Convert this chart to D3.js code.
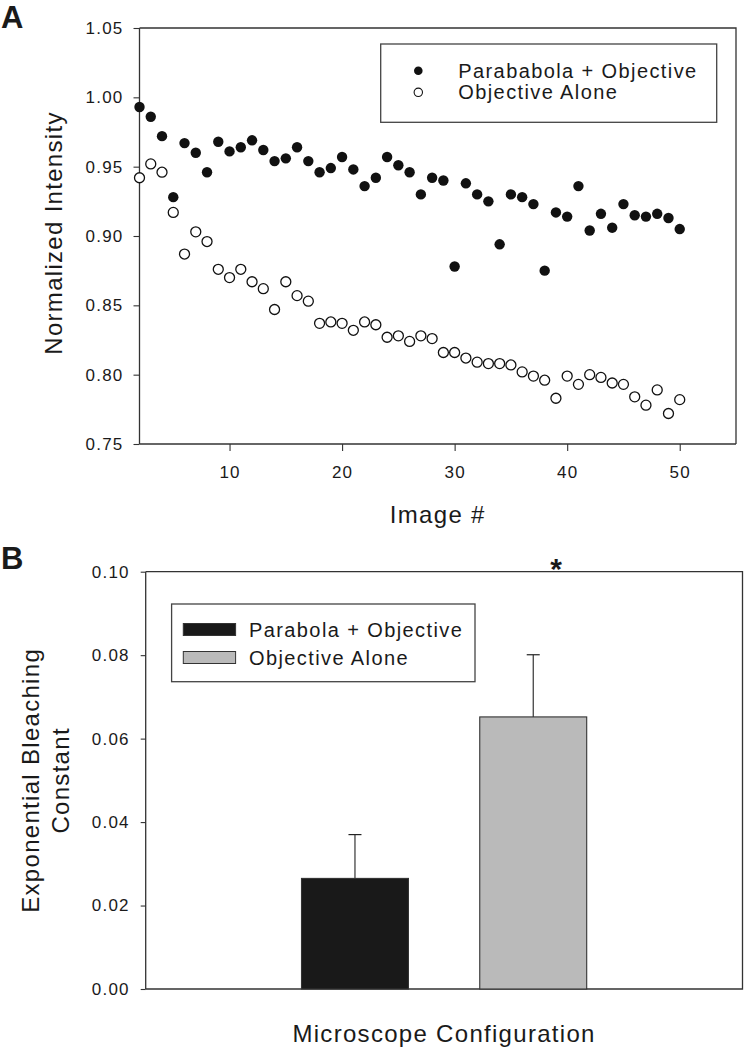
<!DOCTYPE html>
<html>
<head>
<meta charset="utf-8">
<script src="https://cdn.jsdelivr.net/npm/d3@7"></script>
<style>
  html, body { margin: 0; padding: 0; background: #fff; }
  svg { display: block; }
  text { font-family: "Liberation Sans", Arial, sans-serif; fill: #1a1a1a; }
</style>
</head>
<body>
<svg id="chart" width="744" height="1048"></svg>
<script>
// ---------- Panel A data ----------
const imageNumbers = [2,3,4,5,6,7,8,9,10,11,12,13,14,15,16,17,18,19,20,21,22,23,24,25,26,27,28,29,30,31,32,33,34,35,36,37,38,39,40,41,42,43,44,45,46,47,48,49,50];
const parabolaObjective = [0.993,0.986,0.972,0.928,0.967,0.960,0.946,0.968,0.961,0.964,
  0.969,0.962,0.954,0.956,0.964,0.954,0.946,0.949,0.957,0.948,
  0.936,0.942,0.957,0.951,0.946,0.930,0.942,0.940,0.878,0.938,
  0.930,0.925,0.894,0.930,0.928,0.923,0.875,0.917,0.914,0.936,
  0.904,0.916,0.906,0.923,0.915,0.914,0.916,0.913,0.905];
const objectiveAlone = [0.942,0.952,0.946,0.917,0.887,0.903,0.896,0.876,0.870,0.876,
  0.867,0.862,0.847,0.867,0.857,0.853,0.837,0.838,0.837,0.832,
  0.838,0.836,0.827,0.828,0.824,0.828,0.826,0.816,0.816,0.812,
  0.809,0.808,0.808,0.807,0.802,0.799,0.796,0.783,0.799,0.793,
  0.800,0.798,0.794,0.793,0.784,0.778,0.789,0.772,0.782];
const seriesNamesA = ["Parababola + Objective", "Objective Alone"];
const xTicksA = [10, 20, 30, 40, 50];
const yTicksA = [0.75, 0.80, 0.85, 0.90, 0.95, 1.00, 1.05];

// ---------- Panel B data ----------
const configurations = ["Parabola + Objective", "Objective Alone"];
const bleachConstant = [0.0265, 0.0652];
const bleachError = [0.0105, 0.0149];
const yTicksB = [0.00, 0.02, 0.04, 0.06, 0.08, 0.10];

const svg = d3.select("#chart");
const axisColor = "#333";
const tickFont = { size: 17, ls: "1.2px" };
const legFont = { size: 20, ls: "1.4px" };
const titleFont = { size: 24, ls: "1.3px" };

function styleTicks(ax) {
  ax.selectAll(".tick line").attr("stroke", axisColor).attr("stroke-width", 1.1);
  ax.selectAll("text").attr("font-size", tickFont.size).attr("letter-spacing", tickFont.ls)
    .attr("font-family", "Liberation Sans, Arial, sans-serif").attr("fill", "#1a1a1a");
}

// ================= Panel A =================
const A = { left: 139.5, right: 736, top: 28, bottom: 444 };
const xA = d3.scaleLinear().domain([2, 55]).range([A.left, A.right]);
const yA = d3.scaleLinear().domain([0.75, 1.05]).range([A.bottom, A.top]);

const gA = svg.append("g");

gA.append("path")
  .attr("d", `M${A.left},${A.top}H${A.right}V${A.bottom}`)
  .attr("fill", "none").attr("stroke", axisColor).attr("stroke-width", 1.3);

const yAxisA = gA.append("g").attr("transform", `translate(${A.left},0)`)
  .call(d3.axisLeft(yA).tickValues(yTicksA).tickFormat(d3.format(".2f"))
    .tickSize(6).tickSizeOuter(0).tickPadding(10));
const xAxisA = gA.append("g").attr("transform", `translate(0,${A.bottom})`)
  .call(d3.axisBottom(xA).tickValues(xTicksA).tickFormat(d3.format("d"))
    .tickSize(7).tickSizeOuter(0).tickPadding(15));
[yAxisA, xAxisA].forEach(ax => {
  ax.select(".domain").attr("stroke", axisColor).attr("stroke-width", 1.3);
  styleTicks(ax);
});
yAxisA.select(".domain").attr("d", `M0,${A.top}V${A.bottom}`);
xAxisA.select(".domain").attr("d", `M${A.left},0H${A.right}`);

const ptsA = imageNumbers.map((x, i) => ({ x, p: parabolaObjective[i], o: objectiveAlone[i] }));
gA.append("g").selectAll("circle").data(ptsA).join("circle")
  .attr("cx", d => xA(d.x)).attr("cy", d => yA(d.o)).attr("r", 5)
  .attr("fill", "#fff").attr("stroke", "#111").attr("stroke-width", 1.3);
gA.append("g").selectAll("circle").data(ptsA).join("circle")
  .attr("cx", d => xA(d.x)).attr("cy", d => yA(d.p)).attr("r", 5.2)
  .attr("fill", "#111");

gA.append("text").attr("x", (A.left + A.right) / 2).attr("y", 523)
  .attr("text-anchor", "middle").attr("font-size", titleFont.size).attr("letter-spacing", titleFont.ls)
  .text("Image #");
gA.append("text").attr("transform", `translate(62,${(A.top + A.bottom) / 2 - 3}) rotate(-90)`)
  .attr("text-anchor", "middle").attr("font-size", titleFont.size).attr("letter-spacing", titleFont.ls)
  .text("Normalized Intensity");

// legend A
const legA = gA.append("g");
legA.append("rect").attr("x", 380.7).attr("y", 44).attr("width", 336).attr("height", 78.3)
  .attr("fill", "#fff").attr("stroke", "#444").attr("stroke-width", 1.3);
const legAy = [70.7, 92.3];
legA.append("circle").attr("cx", 418.3).attr("cy", legAy[0]).attr("r", 4.3).attr("fill", "#111");
legA.append("circle").attr("cx", 418.3).attr("cy", legAy[1]).attr("r", 4.2)
  .attr("fill", "#fff").attr("stroke", "#111").attr("stroke-width", 1.1);
seriesNamesA.forEach((n, i) => {
  legA.append("text").attr("x", 458.3).attr("y", legAy[i] + 7)
    .attr("font-size", legFont.size).attr("letter-spacing", legFont.ls).text(n);
});

svg.append("text").attr("x", 1).attr("y", 28).attr("font-size", 31)
  .attr("font-weight", "bold").text("A");

// ================= Panel B =================
const B = { left: 145.7, right: 742.5, top: 571.7, bottom: 989 };
const xB = d3.scaleBand().domain(configurations).range([B.left, B.right])
  .paddingInner(0.4).paddingOuter(0.874);
const yB = d3.scaleLinear().domain([0, 0.10]).range([B.bottom, B.top]);

const gB = svg.append("g");
gB.append("path")
  .attr("d", `M${B.left},${B.top}H${B.right}V${B.bottom}H${B.left}`)
  .attr("fill", "none").attr("stroke", axisColor).attr("stroke-width", 1.3);

const yAxisB = gB.append("g").attr("transform", `translate(${B.left},0)`)
  .call(d3.axisLeft(yB).tickValues(yTicksB).tickFormat(d3.format(".2f"))
    .tickSize(5).tickSizeOuter(0).tickPadding(11));
yAxisB.select(".domain").attr("stroke", axisColor).attr("stroke-width", 1.3)
  .attr("d", `M0,${B.top}V${B.bottom}`);
styleTicks(yAxisB);

const barFill = ["#191919", "#bababa"];
const barsB = configurations.map((c, i) => ({ c, v: bleachConstant[i], e: bleachError[i], f: barFill[i] }));

const errG = gB.append("g");
barsB.forEach(d => {
  const cx = xB(d.c) + xB.bandwidth() / 2;
  errG.append("line").attr("x1", cx).attr("x2", cx)
    .attr("y1", yB(d.v)).attr("y2", yB(d.v + d.e))
    .attr("stroke", "#222").attr("stroke-width", 1.1);
  errG.append("line").attr("x1", cx - 6.5).attr("x2", cx + 6.5)
    .attr("y1", yB(d.v + d.e)).attr("y2", yB(d.v + d.e))
    .attr("stroke", "#222").attr("stroke-width", 1.2);
});

gB.append("g").selectAll("rect").data(barsB).join("rect")
  .attr("x", d => xB(d.c)).attr("width", xB.bandwidth())
  .attr("y", d => yB(d.v)).attr("height", d => yB(0) - yB(d.v))
  .attr("fill", d => d.f).attr("stroke", "#333").attr("stroke-width", 1.1);

gB.append("text").attr("x", 556).attr("y", 579).attr("text-anchor", "middle")
  .attr("font-size", 30).attr("font-weight", "bold").text("*");

// legend B
const legB = gB.append("g");
legB.append("rect").attr("x", 171.6).attr("y", 604).attr("width", 303.4).attr("height", 77.7)
  .attr("fill", "#fff").attr("stroke", "#444").attr("stroke-width", 1.3);
const legBy = [629.5, 657.5];
configurations.forEach((c, i) => {
  legB.append("rect").attr("x", 183.3).attr("y", legBy[i] - 6).attr("width", 52.3).attr("height", 12)
    .attr("fill", barFill[i]).attr("stroke", "#333").attr("stroke-width", 1);
  legB.append("text").attr("x", 249).attr("y", legBy[i] + 7)
    .attr("font-size", legFont.size).attr("letter-spacing", legFont.ls).text(c);
});

gB.append("text").attr("x", (B.left + B.right) / 2).attr("y", 1042)
  .attr("text-anchor", "middle").attr("font-size", titleFont.size).attr("letter-spacing", titleFont.ls)
  .text("Microscope Configuration");
const yMidB = (B.top + B.bottom) / 2;
gB.append("text").attr("transform", `translate(39,${yMidB}) rotate(-90)`)
  .attr("text-anchor", "middle").attr("font-size", titleFont.size).attr("letter-spacing", titleFont.ls)
  .text("Exponential Bleaching");
gB.append("text").attr("transform", `translate(69,${yMidB}) rotate(-90)`)
  .attr("text-anchor", "middle").attr("font-size", titleFont.size).attr("letter-spacing", titleFont.ls)
  .text("Constant");

svg.append("text").attr("x", 1).attr("y", 569).attr("font-size", 31)
  .attr("font-weight", "bold").text("B");
</script>
</body>
</html>
